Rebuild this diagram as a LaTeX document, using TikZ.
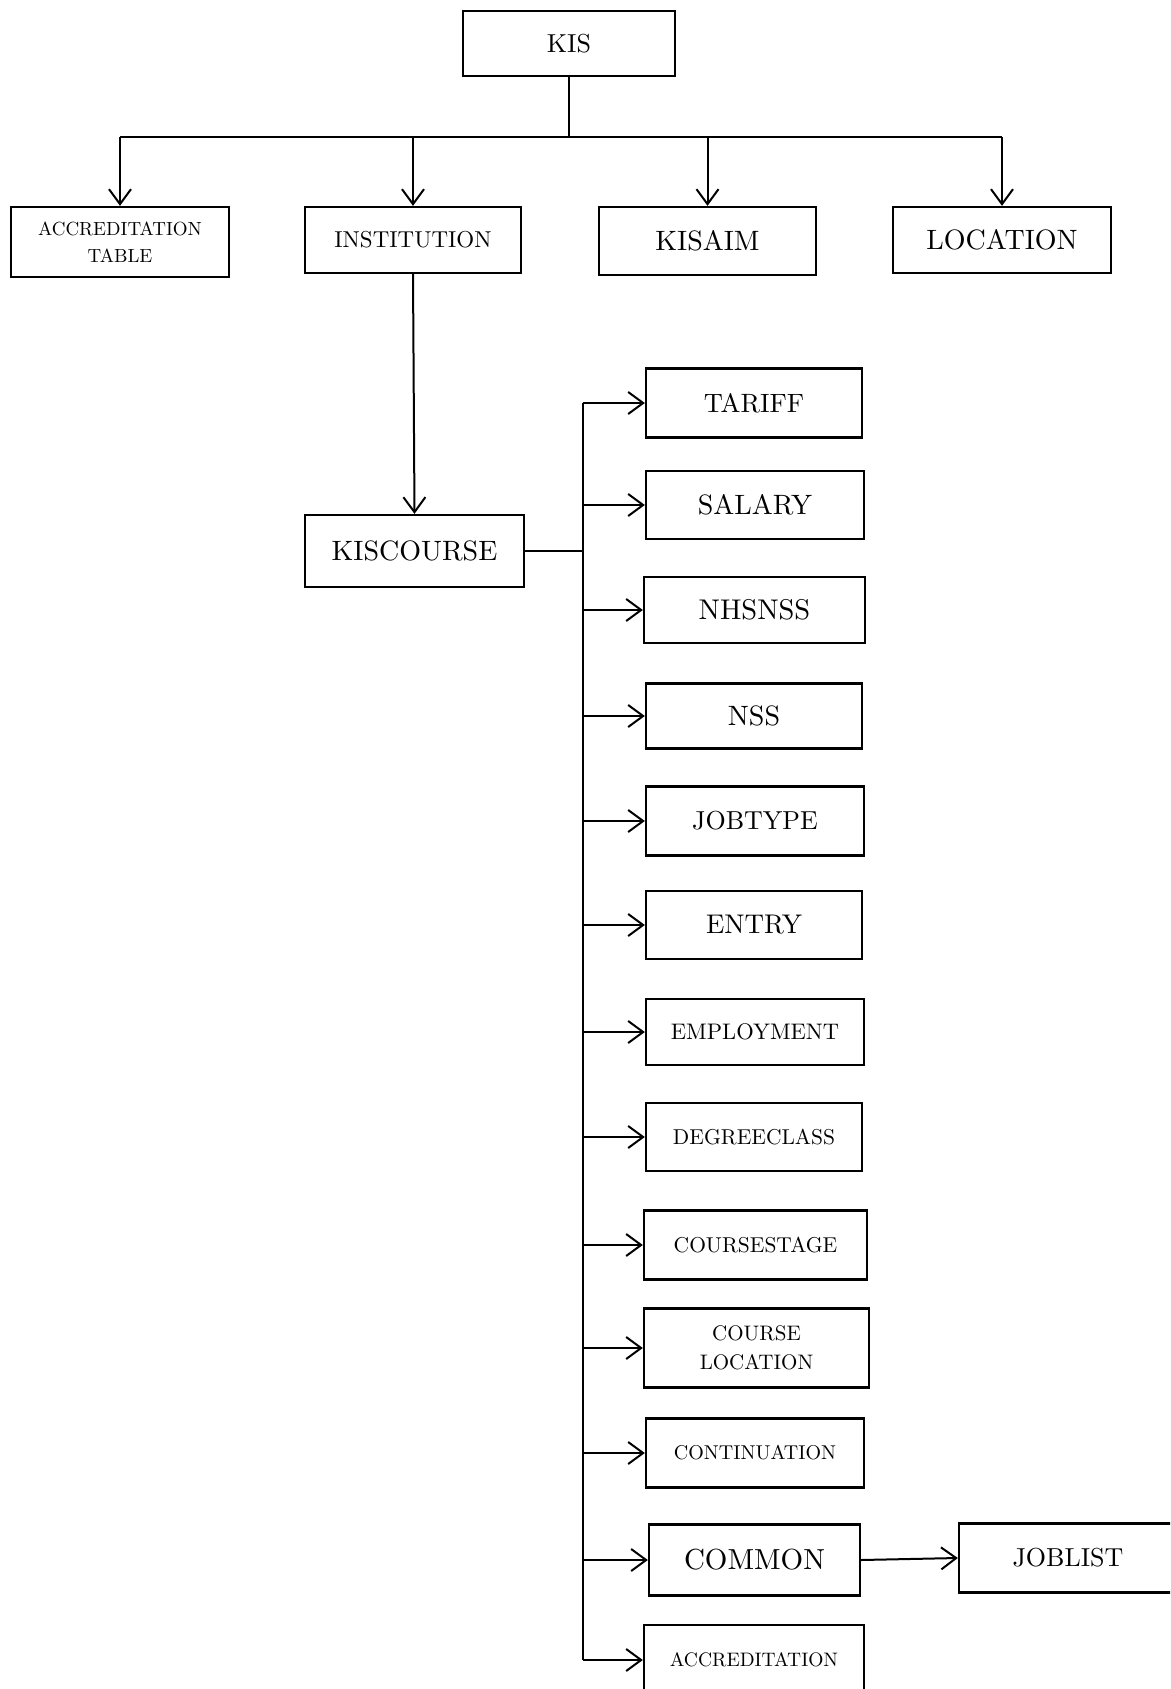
\documentclass[tikz,border=0pt]{standalone}
\usepackage{fontspec}
\setmainfont{lmroman10-regular}[Extension=.otf]
\usetikzlibrary{arrows.meta}
\begin{document}
\begin{tikzpicture}[x=1pt,y=-1pt,
  box/.style={draw, line width=2.3pt, inner sep=0pt, align=center},
  fs/.style={font=\fontsize{#1}{#1}\selectfont},
  fsl/.style 2 args={font=\fontsize{#1}{#2}\selectfont},
  arr/.style={line width=2pt, -{Straight Barb[length=15pt,width=22pt]}},
  thin/.style={line width=1.4pt}]
\useasboundingbox (0,0) rectangle (1170,1689);
\clip (0,0) rectangle (1170,1689);
% top level
\node[box, fs=26, minimum width=212pt, minimum height=65pt] (kis) at (569,43.5) {KIS};
\node[box, fsl={19}{27}, minimum width=218pt, minimum height=70pt] (acct) at (120,242) {ACCREDITATION\\TABLE};
\node[box, fs=23, minimum width=216pt, minimum height=66pt] (inst) at (413,240) {INSTITUTION};
\node[box, fs=28, minimum width=217pt, minimum height=68pt] (kisaim) at (707.5,241) {KISAIM};
\node[box, fs=28, minimum width=218pt, minimum height=66pt] (loc) at (1002,240) {LOCATION};
\node[box, fs=28, minimum width=219pt, minimum height=72pt] (kisc) at (414.5,551) {KISCOURSE};
% children of KISCOURSE
\node[box, fs=26.5, minimum width=216pt, minimum height=69pt] (tariff) at (754,403) {TARIFF};
\node[box, fs=28, minimum width=218pt, minimum height=68pt] (salary) at (755,505) {SALARY};
\node[box, fs=28.5, minimum width=221pt, minimum height=66pt] (nhsnss) at (754.5,610) {NHSNSS};
\node[box, fs=28, minimum width=216pt, minimum height=65pt] (nss) at (754,716) {NSS};
\node[box, fs=26, minimum width=218pt, minimum height=69pt] (jobtype) at (755,821) {JOBTYPE};
\node[box, fs=27, minimum width=216pt, minimum height=68pt] (entry) at (754,925) {ENTRY};
\node[box, fs=22.5, minimum width=218pt, minimum height=66pt] (employ) at (755,1032) {EMPLOYMENT};
\node[box, fs=21.5, minimum width=216pt, minimum height=68pt] (degree) at (754,1137) {DEGREECLASS};
\node[box, fs=21.5, minimum width=223pt, minimum height=69pt] (cstage) at (755.5,1245) {COURSESTAGE};
\node[box, fsl={21}{29}, minimum width=225pt, minimum height=79pt] (cloc) at (756.5,1348) {COURSE\\LOCATION};
\node[box, fs=20, minimum width=218pt, minimum height=69pt] (contin) at (755,1453) {CONTINUATION};
\node[box, fs=29, minimum width=211pt, minimum height=71pt] (common) at (754.5,1560) {COMMON};
\node[box, fs=19.5, minimum width=220pt, minimum height=70pt] (accr) at (754,1660) {ACCREDITATION};
\node[box, fs=26, minimum width=218pt, minimum height=69pt] (joblist) at (1068,1558) {JOBLIST};
% top connectors
\draw[line width=1.1pt] (kis.south) -- ++(0,60) coordinate (j);
\draw[thin] (acct.north |- j) -- (loc.north |- j);
\foreach \n in {acct,inst,kisaim,loc}
  \draw[arr] (\n.north |- j) -- (\n.north);
\draw[arr] (inst.south) -- (kisc.north);
% KISCOURSE bus
\coordinate (bus) at (583,0);
\draw[thin] (kisc.east) -- (kisc.east -| bus);
\draw[thin] (bus |- tariff.west) -- (bus |- accr.west);
\foreach \n in {tariff,salary,nhsnss,nss,jobtype,entry,employ,degree,cstage,cloc,contin,common,accr}
  \draw[arr] (bus |- \n.west) -- (\n.west);
\draw[arr] (common.east) -- (joblist.west);
\end{tikzpicture}
\end{document}
